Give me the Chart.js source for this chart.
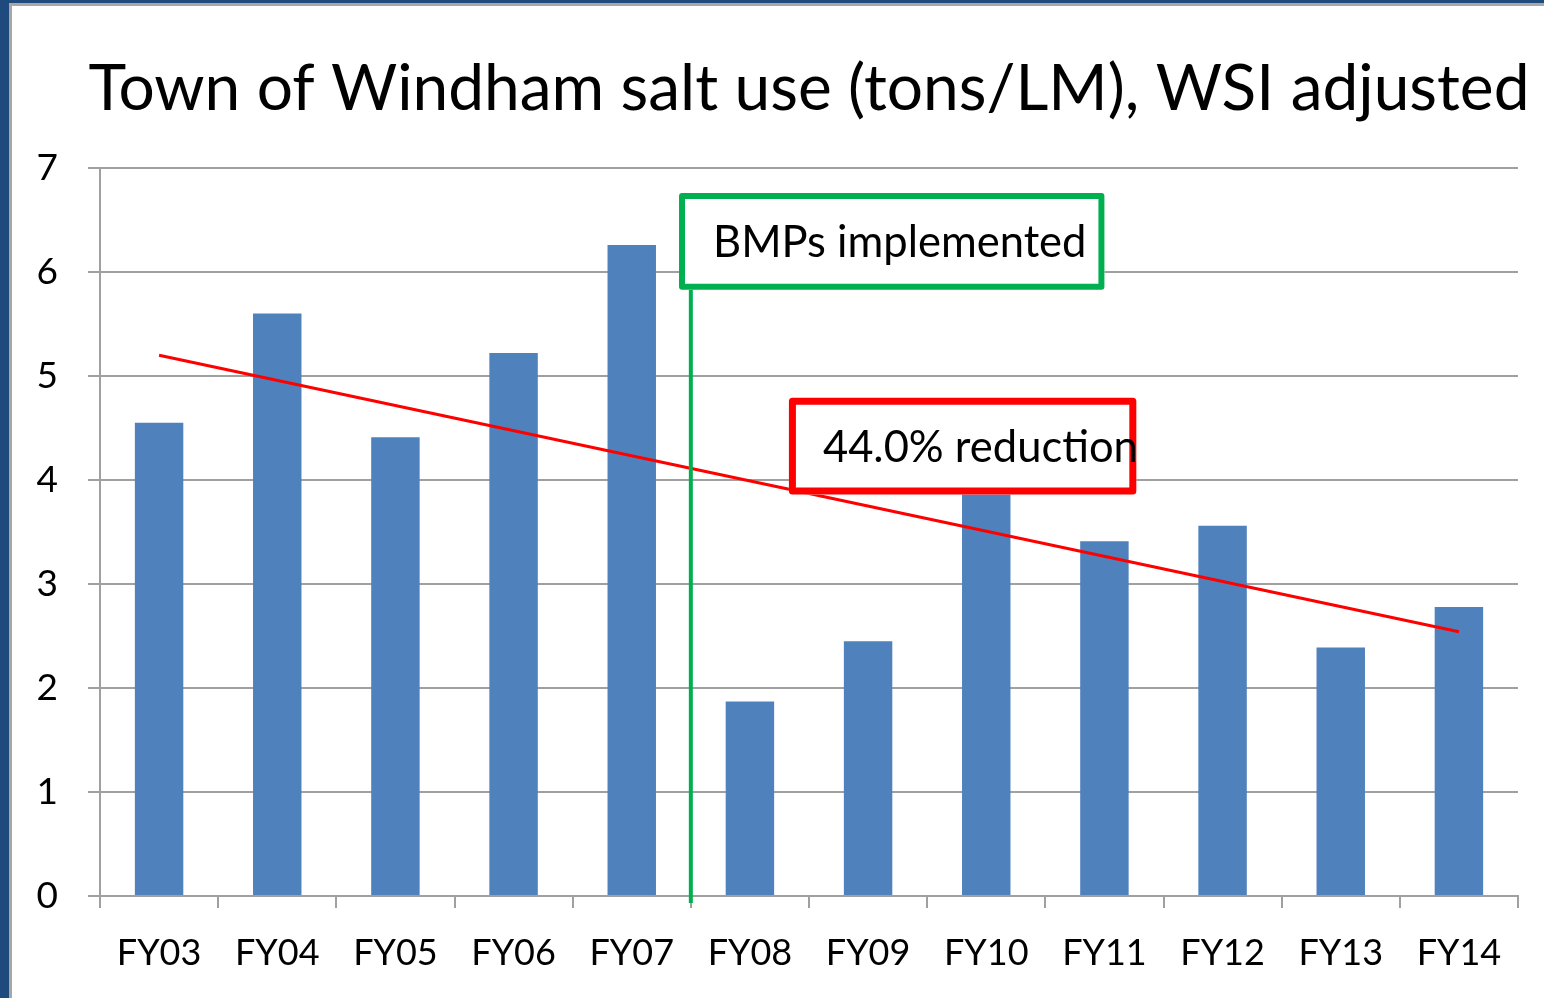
<!DOCTYPE html>
<html>
<head>
<meta charset="utf-8">
<script src="https://cdn.jsdelivr.net/npm/chart.js@4/dist/chart.umd.min.js"></script>
<style>
  html, body { margin: 0; padding: 0; }
  body { width: 1544px; height: 998px; background: #1F4A7E; overflow: hidden; position: relative; }
  #cadre {
    position: absolute; left: 9px; top: 3px; width: 1535px; height: 995px;
    background: #fff; border-left: 3px solid #A7A7A7; border-top: 3px solid #A7A7A7;
    box-sizing: border-box;
  }
  canvas { display: block; }
</style>
</head>
<body>
<div id="cadre">
  <canvas id="monGraphique" width="1532" height="992"></canvas>
</div>
<script>
// données
const annees = ['FY03', 'FY04', 'FY05', 'FY06', 'FY07', 'FY08', 'FY09', 'FY10', 'FY11', 'FY12', 'FY13', 'FY14'];
const selParKm = [4.55, 5.6, 4.41, 5.22, 6.26, 1.87, 2.45, 4.0, 3.41, 3.56, 2.39, 2.78];
// tendance : seulement les deux extrémités, la ligne les relie
const tendance = [5.2, null, null, null, null, null, null, null, null, null, null, 2.54];
const titre = 'Town of Windham salt use (tons/LM), WSI adjusted';
const texteBmp = 'BMPs implemented';
const texteReduction = '44.0% reduction';

const police = 'Lato, "Open Sans", sans-serif';

// cadres annotés (en unités des axes : index de catégorie / valeur)
const cadreBmp = { x1: 4.40, x2: 8.0, y1: 6.76, y2: 5.83, couleur: '#00B050', epaisseur: 6 };
const cadreReduction = { x1: 5.33, x2: 8.27, y1: 4.79, y2: 3.86, couleur: '#FF0000', epaisseur: 7 };
const ligneBmp = 4.5;

const dessinTitre = {
    id: 'dessinTitre',
    afterDraw(chart) {
        const ctx = chart.ctx;
        const zone = chart.chartArea;
        ctx.save();
        ctx.font = '64px ' + police;
        ctx.fillStyle = '#000';
        ctx.textAlign = 'center';
        ctx.textBaseline = 'alphabetic';
        ctx.fillText(titre, (zone.left + zone.right) / 2, 104);
        ctx.restore();
    }
};

const dessinCadre = (chart, c, texte) => {
    const ctx = chart.ctx;
    const x = chart.scales.x;
    const y = chart.scales.y;
    const gauche = x.getPixelForValue(c.x1);
    const droite = x.getPixelForValue(c.x2);
    const haut = y.getPixelForValue(c.y1);
    const bas = y.getPixelForValue(c.y2);
    const e = c.epaisseur;
    ctx.fillStyle = '#fff';
    ctx.fillRect(gauche, haut, droite - gauche, bas - haut);
    ctx.strokeStyle = c.couleur;
    ctx.lineWidth = e;
    ctx.lineJoin = 'round';
    ctx.strokeRect(gauche + e / 2, haut + e / 2, droite - gauche - e, bas - haut - e);
    ctx.fillStyle = '#000';
    ctx.font = '43.5px ' + police;
    ctx.textAlign = 'left';
    ctx.textBaseline = 'middle';
    ctx.fillText(texte, gauche + 34, (haut + bas) / 2 + 2);
};

const annotations = {
    id: 'annotations',
    afterDatasetsDraw(chart) {
        const ctx = chart.ctx;
        const x = chart.scales.x;
        const y = chart.scales.y;
        ctx.save();
        // ligne verticale verte
        const xl = x.getPixelForValue(ligneBmp);
        ctx.strokeStyle = '#00B050';
        ctx.lineWidth = 4;
        ctx.beginPath();
        ctx.moveTo(xl, y.getPixelForValue(0) + 7);
        ctx.lineTo(xl, y.getPixelForValue(cadreBmp.y2));
        ctx.stroke();
        dessinCadre(chart, cadreBmp, texteBmp);
        dessinCadre(chart, cadreReduction, texteReduction);
        ctx.restore();
    }
};

const config = {
    type: 'bar',
    data: {
        labels: annees,
        datasets: [{
            type: 'line',
            label: 'Tendance',
            data: tendance,
            spanGaps: true,
            borderColor: '#FF0000',
            borderWidth: 3,
            pointRadius: 0,
            order: 0
        }, {
            label: 'Sel (tons/LM)',
            data: selParKm,
            backgroundColor: '#4F81BD',
            categoryPercentage: 1,
            barPercentage: 0.41,
            order: 1
        }]
    },
    options: {
        responsive: false,
        animation: false,
        layout: {
            padding: { top: 162, right: 26, left: 0, bottom: 0 }
        },
        plugins: {
            legend: { display: false },
            title: { display: false },
            tooltip: { enabled: false }
        },
        scales: {
            x: {
                grid: {
                    drawOnChartArea: false,
                    drawTicks: true,
                    tickLength: 12,
                    color: '#A0A0A0',
                    lineWidth: 2
                },
                border: { color: '#A0A0A0', width: 2 },
                ticks: {
                    color: '#000',
                    padding: 24,
                    font: { family: police, size: 36 }
                },
                afterFit: scale => { scale.height = 102; }
            },
            y: {
                min: 0,
                max: 7,
                grid: {
                    tickLength: 12,
                    color: '#A0A0A0',
                    lineWidth: 2
                },
                border: { color: '#A0A0A0', width: 2 },
                ticks: {
                    stepSize: 1,
                    color: '#000',
                    padding: 30,
                    font: { family: police, size: 37 }
                },
                afterFit: scale => { scale.width = 88; }
            }
        }
    },
    plugins: [dessinTitre, annotations]
};

const ctx = document.getElementById('monGraphique').getContext('2d');
const monGraphique = new Chart(ctx, config);
</script>
</body>
</html>
